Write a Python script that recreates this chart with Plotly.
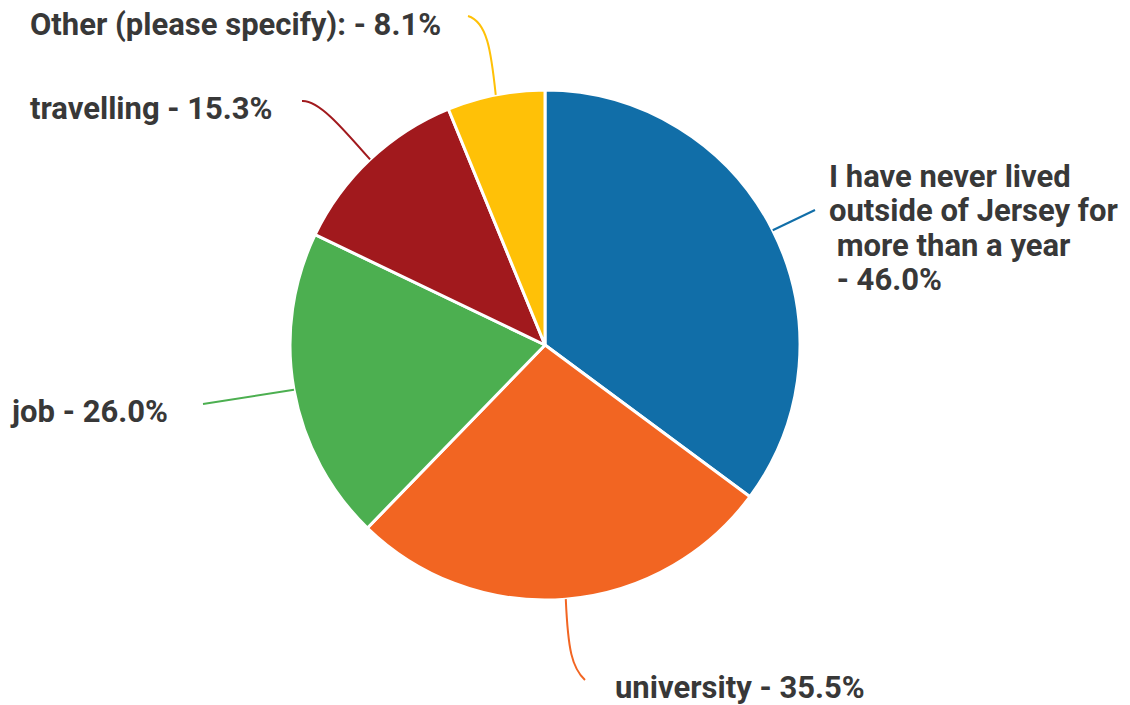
import math
import plotly.graph_objects as go

# Survey answers (multi-select, so shares sum to more than 100%)
categories = [
    "I have never lived outside of Jersey for more than a year",
    "university",
    "job",
    "travelling",
    "Other (please specify):",
]
# Displayed label text, one entry per wrapped line
label_lines = [
    ["I have never lived", "outside of Jersey for", " more than a year", " - {v:.1f}%"],
    ["university - {v:.1f}%"],
    ["job - {v:.1f}%"],
    ["travelling - {v:.1f}%"],
    ["Other (please specify): - {v:.1f}%"],
]
values = [46.0, 35.5, 26.0, 15.3, 8.1]
colors = ["#116ea8", "#f26522", "#4caf50", "#a1191d", "#ffc107"]

W, H = 1130, 705
CX, CY, R = 545, 345, 255          # pie centre and radius in pixels
TEXT_COLOR = "#383838"
FONT = "Roboto"
FONT_SIZE = 31
LINE_GAP = 34.3                    # baseline-to-baseline distance for wrapped labels
MID_OFFSET = 10.5                  # baseline minus vertical centre of a text line

# Label placement: first baseline (px), x anchor, leader-line end + control points (px)
label_pos = [
    dict(x=828, base=187, xanchor="left", end=(815, 210), ctrl=None),
    dict(x=614, base=698, xanchor="left", end=(585, 680),
         ctrl=((568, 650), (572, 668))),
    dict(x=169, base=422, xanchor="right", end=(203, 404),
         ctrl=((260, 395), (230, 400))),
    dict(x=274, base=119, xanchor="right", end=(302, 101),
         ctrl=((340, 125), (318, 100))),
    dict(x=442, base=35, xanchor="right", end=(468, 16),
         ctrl=((491, 50), (487, 22))),
]


def px(x, y):
    return x / W, 1 - y / H


fig = go.Figure(
    go.Pie(
        labels=categories,
        values=values,
        sort=False,
        direction="clockwise",
        rotation=0,
        marker=dict(colors=colors, line=dict(color="white", width=3)),
        textinfo="none",
        hoverinfo="label+value",
        domain=dict(x=[(CX - R) / W, (CX + R) / W],
                    y=[1 - (CY + R) / H, 1 - (CY - R) / H]),
        showlegend=False,
    )
)

# Leader lines start at each slice's mid-angle on the rim
total = sum(values)
cum = 0.0
shapes = []
annotations = []
for v, col, lines, pos in zip(values, colors, label_lines, label_pos):
    mid = (cum + v / 2) / total * 2 * math.pi
    cum += v
    sx = CX + R * math.sin(mid)
    sy = CY - R * math.cos(mid)
    ex, ey = pos["end"]
    x0, y0 = px(sx, sy)
    x3, y3 = px(ex, ey)
    if pos["ctrl"] is None:
        path = f"M {x0},{y0} L {x3},{y3}"
    else:
        (c1x, c1y), (c2x, c2y) = pos["ctrl"]
        x1, y1 = px(c1x, c1y)
        x2, y2 = px(c2x, c2y)
        path = f"M {x0},{y0} C {x1},{y1} {x2},{y2} {x3},{y3}"
    shapes.append(dict(type="path", path=path, xref="paper", yref="paper",
                       line=dict(color=col, width=2)))
    for i, line in enumerate(lines):
        ax, ay = px(pos["x"], pos["base"] + i * LINE_GAP - MID_OFFSET)
        annotations.append(dict(
            text=line.format(v=v), x=ax, y=ay, xref="paper", yref="paper",
            xanchor=pos["xanchor"], yanchor="middle", showarrow=False,
            borderpad=0,
            font=dict(family=FONT, size=FONT_SIZE, color=TEXT_COLOR, weight=700),
        ))

fig.update_layout(
    width=W, height=H,
    margin=dict(l=0, r=0, t=0, b=0),
    paper_bgcolor="white",
    plot_bgcolor="white",
    shapes=shapes,
    annotations=annotations,
)

fig.write_html("out.html")
